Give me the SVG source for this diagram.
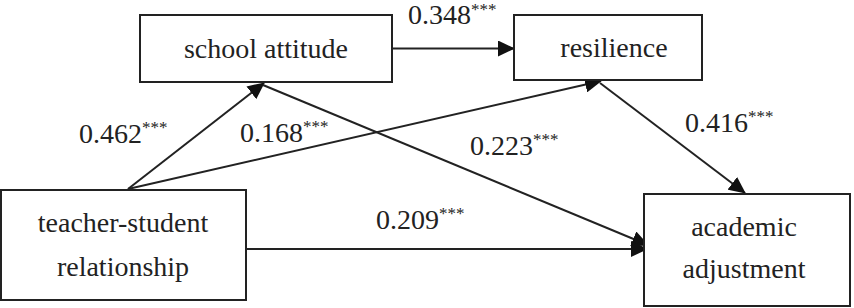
<svg xmlns="http://www.w3.org/2000/svg" width="854" height="308" viewBox="0 0 854 308">
<style>
text{font-family:'Liberation Serif','Times New Roman',Times,'DejaVu Serif',serif;font-size:28px;fill:#222}
.t{text-anchor:middle}
.s{font-size:17px}
.box{fill:#fff;stroke:#222;stroke-width:2}
.c{stroke:#222;stroke-width:2;fill:none;marker-end:url(#ah)}
</style>
<defs>
<marker id="ah" viewBox="0 0 17 16" refX="16" refY="8" markerWidth="17" markerHeight="16" markerUnits="userSpaceOnUse" orient="auto">
<path d="M0,0 L17,8 L0,16 Z" fill="#111"/>
</marker>
</defs>
<rect width="854" height="308" fill="#fff"/>
<g id="connectors">
<line class="c" x1="392" y1="48.5" x2="514" y2="48.5"/>
<line class="c" x1="128" y1="189" x2="264" y2="83"/>
<line class="c" x1="128" y1="189" x2="601" y2="81"/>
<line class="c" x1="263" y1="85" x2="648" y2="245"/>
<line class="c" x1="600" y1="83" x2="745" y2="193"/>
<line class="c" x1="246" y1="249" x2="647" y2="249"/>
</g>
<g id="school-attitude">
<rect class="box" x="140" y="15" width="252" height="67"/>
<text class="t" x="266" y="57.5" font-family="Liberation Serif, serif">school attitude</text>
</g>
<g id="resilience">
<rect class="box" x="514" y="15" width="188" height="65"/>
<text class="t" x="614" y="57" font-family="Liberation Serif, serif">resilience</text>
</g>
<g id="teacher-student-relationship">
<rect class="box" x="1" y="190" width="245" height="110"/>
<text class="t" x="123" y="231.5" font-family="Liberation Serif, serif">teacher-student</text>
<text class="t" x="123" y="276" font-family="Liberation Serif, serif">relationship</text>
</g>
<g id="academic-adjustment">
<rect class="box" x="644" y="194" width="206" height="112"/>
<text class="t" x="744" y="236" font-family="Liberation Serif, serif">academic</text>
<text class="t" x="744" y="278" font-family="Liberation Serif, serif">adjustment</text>
</g>
<g id="labels" font-family="Liberation Serif, serif">
<text x="408" y="24">0.348<tspan class="s" dy="-9">***</tspan></text>
<text x="79" y="143">0.462<tspan class="s" dy="-10">***</tspan></text>
<text x="240" y="142">0.168<tspan class="s" dy="-10">***</tspan></text>
<text x="685" y="132">0.416<tspan class="s" dy="-10">***</tspan></text>
<text x="470" y="155">0.223<tspan class="s" dy="-10">***</tspan></text>
<text x="376" y="229">0.209<tspan class="s" dy="-10">***</tspan></text>
</g>
</svg>
